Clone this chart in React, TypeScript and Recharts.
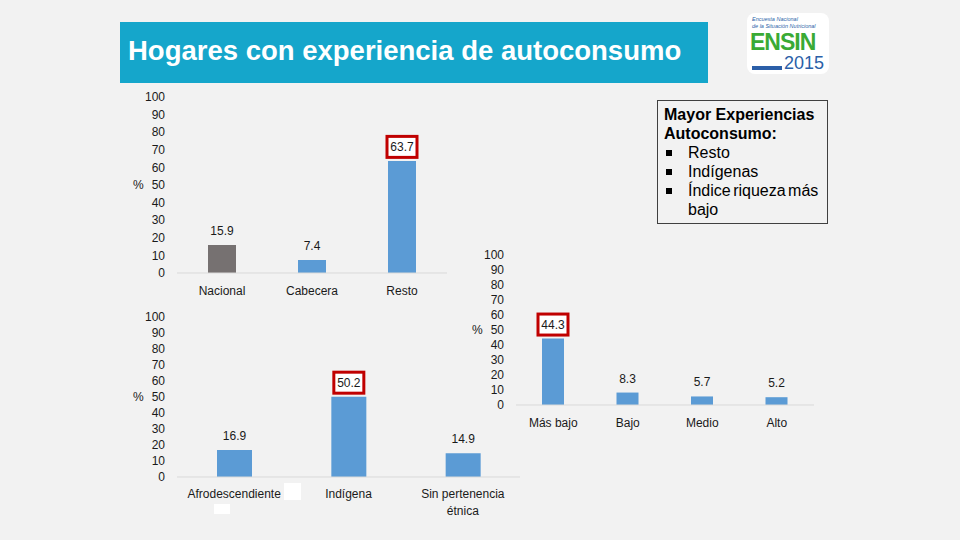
import React from 'react';
import { BarChart, Bar, XAxis, YAxis, Cell, LabelList } from 'recharts';

// Data
const zoneCategories = ['Nacional', 'Cabecera', 'Resto'];
const zoneValues = [15.9, 7.4, 63.7];

const ethnicCategories = ['Afrodescendiente', 'Indígena', 'Sin pertenencia\nétnica'];
const ethnicValues = [16.9, 50.2, 14.9];

const wealthCategories = ['Más bajo', 'Bajo', 'Medio', 'Alto'];
const wealthValues = [44.3, 8.3, 5.7, 5.2];

const percentTicks = [0, 10, 20, 30, 40, 50, 60, 70, 80, 90, 100];
const highlights = ['Resto', 'Indígenas', 'Índice riqueza más bajo'];

const FONT = '"Liberation Sans", Arial, sans-serif';
const BLUE = '#5b9bd5';
const GRAY = '#767171';
const TXT = '#1a1a1a';

const toRows = (cats: string[], vals: number[]) => cats.map((c, i) => ({ name: c, value: vals[i] }));

// label above bar, boxed in red when highlighted
const makeLabel = (highlightIdx: number) => (props: any) => {
  const { x, y, width, value, index } = props;
  const cx = Number(x) + Number(width) / 2;
  const cy = Number(y) - 14;
  return (
    <g>
      {index === highlightIdx && (
        <rect x={cx - 15} y={cy - 10.5} width={30} height={21} fill="#fff" stroke="#c00000" strokeWidth={3} />
      )}
      <text x={cx} y={cy} textAnchor="middle" dominantBaseline="central" fontSize={12} fontFamily={FONT} fill={TXT}>
        {Number(value).toFixed(1)}
      </text>
    </g>
  );
};

const CatTick = (props: any) => {
  const { x, y, payload } = props;
  const lines = String(payload.value).split('\n');
  return (
    <text x={x} y={y} textAnchor="middle" fontSize={12} fontFamily={FONT} fill={TXT}>
      {lines.map((l, i) => (
        <tspan key={i} x={x} dy={i === 0 ? '0.71em' : 17}>{l}</tspan>
      ))}
    </text>
  );
};

interface SmallChartProps {
  rows: { name: string; value: number }[];
  width: number;
  height: number;
  marginRight: number;
  xHeight: number;
  barSize: number;
  highlightIdx: number;
  xTickMargin: number;
  colors?: string[];
}

const SmallChart: React.FC<SmallChartProps> = ({ rows, width, height, marginRight, xHeight, barSize, highlightIdx, xTickMargin, colors }) => (
  <BarChart width={width} height={height} data={rows} margin={{ top: 12, right: marginRight, left: 0, bottom: 2 }}>
    <XAxis
      dataKey="name"
      axisLine={{ stroke: '#d9d9d9' }}
      tickLine={false}
      tickSize={0}
      tickMargin={xTickMargin}
      height={xHeight}
      interval={0}
      tick={<CatTick />}
    />
    <YAxis
      domain={[0, 100]}
      ticks={percentTicks}
      interval={0}
      axisLine={false}
      tickLine={false}
      tickSize={0}
      tickMargin={12}
      width={57}
      tick={{ fontSize: 12, fontFamily: FONT, fill: TXT }}
      label={{ value: '%', position: 'insideLeft', offset: 13, style: { fontSize: 12, fontFamily: FONT, fill: TXT } }}
    />
    <Bar dataKey="value" barSize={barSize} fill={BLUE} isAnimationActive={false}>
      {rows.map((r, i) => (
        <Cell key={r.name} fill={colors ? colors[i] : BLUE} />
      ))}
      <LabelList dataKey="value" content={makeLabel(highlightIdx)} />
    </Bar>
  </BarChart>
);

const Logo = () => (
  <div style={{ position: 'absolute', left: 747, top: 13, width: 82, height: 61, background: '#fff', borderRadius: 8, fontFamily: FONT, overflow: 'hidden' }}>
    <div style={{ position: 'absolute', left: 5, top: 3, fontSize: 5.5, color: '#2b5fa8', fontStyle: 'italic', lineHeight: '7px', whiteSpace: 'nowrap' }}>
      Encuesta Nacional<br />de la Situación Nutricional
    </div>
    <div style={{ position: 'absolute', left: 3, top: 19, fontSize: 23, fontWeight: 'bold', color: '#3aaa35', lineHeight: '20px', letterSpacing: -1 }}>ENSIN</div>
    <div style={{ position: 'absolute', left: 5, top: 53, width: 30, height: 4, background: '#2b5fa8' }} />
    <div style={{ position: 'absolute', left: 37, top: 41, fontSize: 18, color: '#2b5fa8', lineHeight: '18px' }}>2015</div>
  </div>
);

export default function App() {
  return (
    <div style={{ position: 'absolute', left: 0, top: 0, width: 960, height: 540, background: '#f2f2f2', overflow: 'hidden', fontFamily: FONT }}>
      {/* Title */}
      <div style={{ position: 'absolute', left: 120, top: 22, width: 588, height: 61, background: '#15a6cb' }}>
        <div style={{ position: 'absolute', left: 8, top: 13, fontSize: 27.5, fontWeight: 'bold', color: '#fff', whiteSpace: 'nowrap', lineHeight: '32px' }}>
          Hogares con experiencia de autoconsumo
        </div>
      </div>
      <Logo />

      {/* Zone chart */}
      <div style={{ position: 'absolute', left: 120, top: 85 }}>
        <SmallChart
          rows={toRows(zoneCategories, zoneValues)}
          width={330}
          height={220}
          marginRight={3}
          xHeight={30}
          barSize={28}
          highlightIdx={2}
          xTickMargin={13}
          colors={[GRAY, BLUE, BLUE]}
        />
      </div>

      {/* Ethnic chart */}
      <div style={{ position: 'absolute', left: 120, top: 305 }}>
        <SmallChart
          rows={toRows(ethnicCategories, ethnicValues)}
          width={410}
          height={225}
          marginRight={10}
          xHeight={51}
          barSize={35}
          highlightIdx={1}
          xTickMargin={12}
        />
      </div>
      <div style={{ position: 'absolute', left: 284, top: 483, width: 17, height: 17, background: '#fff' }} />
      <div style={{ position: 'absolute', left: 214, top: 504, width: 16, height: 10, background: '#fff' }} />

      {/* Wealth chart */}
      <div style={{ position: 'absolute', left: 459, top: 243 }}>
        <SmallChart
          rows={toRows(wealthCategories, wealthValues)}
          width={362}
          height={200}
          marginRight={7}
          xHeight={36}
          barSize={22}
          highlightIdx={0}
          xTickMargin={13}
        />
      </div>

      {/* Note box */}
      <div style={{ position: 'absolute', left: 657, top: 100, width: 169, height: 122, border: '1px solid #404040', fontSize: 16, lineHeight: '19px', color: '#000' }}>
        <div style={{ padding: '4px 0 0 6px', fontWeight: 'bold' }}>
          Mayor Experiencias<br />Autoconsumo:
        </div>
        {highlights.map((h, i) => (
          <div key={h} style={{ position: 'relative', paddingLeft: 30, wordSpacing: -2 }}>
            <span style={{ position: 'absolute', left: 8, top: 7, width: 6, height: 6, background: '#000' }} />
            {i === 2 ? (<>Índice riqueza más<br />bajo</>) : h}
          </div>
        ))}
      </div>
    </div>
  );
}
